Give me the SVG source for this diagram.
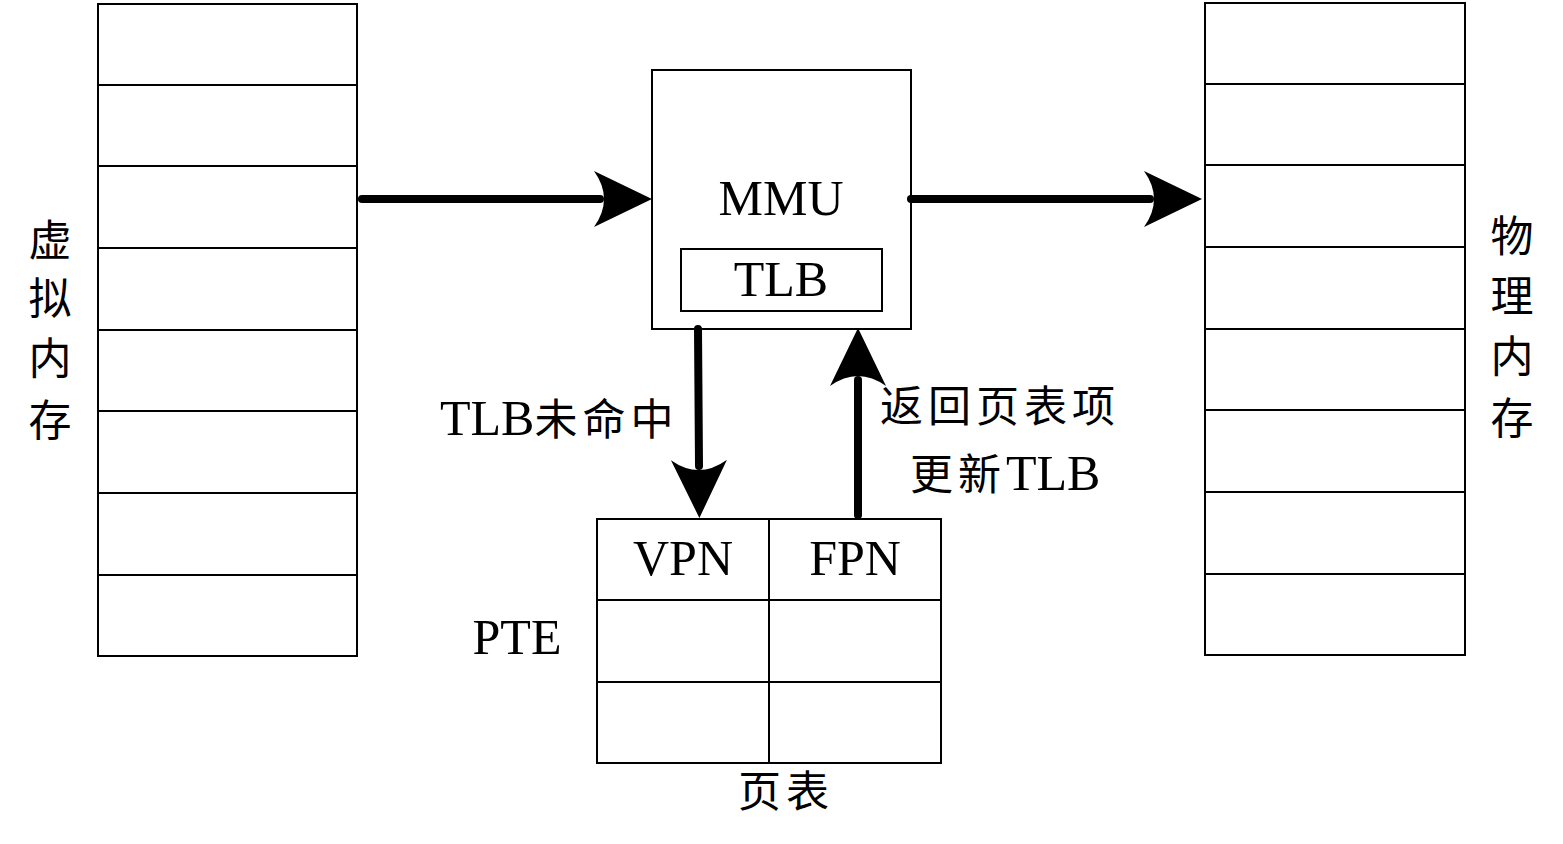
<svg xmlns="http://www.w3.org/2000/svg" width="1563" height="844" viewBox="0 0 1563 844">
<style>
.box{fill:#fff;stroke:#000;stroke-width:2}
.ln{stroke:#000;stroke-width:2;fill:none}
.conn{stroke:#000;stroke-width:8;fill:none;stroke-linecap:round}
.lat{font-family:"Liberation Serif","Times New Roman",serif;font-size:50px;fill:#000}
.cjk{font-family:"Liberation Serif","Noto Sans CJK SC",serif;font-size:43px;fill:#000;letter-spacing:5px}
.vc{font-family:"Liberation Serif","Noto Sans CJK SC",serif;font-size:43px;fill:#000}
</style>
<defs>
<marker id="ah" viewBox="0 0 58 58" refX="6" refY="29" markerWidth="58" markerHeight="58" markerUnits="userSpaceOnUse" orient="auto">
<path d="M0,1 Q20,29 0,57 L58,29 Z" fill="#000"/>
</marker>
</defs>
<rect width="1563" height="844" fill="#fff"/>
<g id="virtual-memory">
<rect class="box" x="98" y="4" width="259" height="652"/>
<path class="ln" d="M98,85H357M98,166H357M98,248H357M98,330H357M98,411H357M98,493H357M98,575H357"/>
<text class="vc" x="50" y="256" text-anchor="middle">虚</text>
<text class="vc" x="50" y="314" text-anchor="middle">拟</text>
<text class="vc" x="50" y="374" text-anchor="middle">内</text>
<text class="vc" x="50" y="436" text-anchor="middle">存</text>
</g>
<g id="physical-memory">
<rect class="box" x="1205" y="3" width="260" height="652"/>
<path class="ln" d="M1205,84H1465M1205,165H1465M1205,247H1465M1205,329H1465M1205,410H1465M1205,492H1465M1205,574H1465"/>
<text class="vc" x="1512" y="252" text-anchor="middle">物</text>
<text class="vc" x="1512" y="312" text-anchor="middle">理</text>
<text class="vc" x="1512" y="372" text-anchor="middle">内</text>
<text class="vc" x="1512" y="434" text-anchor="middle">存</text>
</g>
<g id="mmu">
<rect class="box" x="652" y="70" width="259" height="259"/>
<text class="lat" x="781" y="215" text-anchor="middle">MMU</text>
</g>
<g id="tlb">
<rect class="box" x="681" y="249" width="201" height="62"/>
<text class="lat" x="781" y="296" text-anchor="middle">TLB</text>
</g>
<g id="page-table">
<rect class="box" x="597" y="519" width="344" height="244"/>
<path class="ln" d="M769,519V763M597,600H941M597,682H941"/>
<text class="lat" x="683" y="575" text-anchor="middle">VPN</text>
<text class="lat" x="855" y="575" text-anchor="middle">FPN</text>
<text class="lat" x="517" y="654" text-anchor="middle">PTE</text>
<text class="cjk" x="738" y="807">页表</text>
</g>
<g id="connectors">
<path class="conn" d="M362,199H600" marker-end="url(#ah)"/>
<path class="conn" d="M911,199H1150" marker-end="url(#ah)"/>
<path class="conn" d="M698,329L699,466" marker-end="url(#ah)"/>
<path class="conn" d="M858,515V380" marker-end="url(#ah)"/>
</g>
<g id="labels">
<text x="440" y="435"><tspan class="lat">TLB</tspan><tspan class="cjk">未命中</tspan></text>
<text class="cjk" x="880" y="422">返回页表项</text>
<text x="910" y="490"><tspan class="cjk">更新</tspan><tspan class="lat">TLB</tspan></text>
</g>
</svg>
